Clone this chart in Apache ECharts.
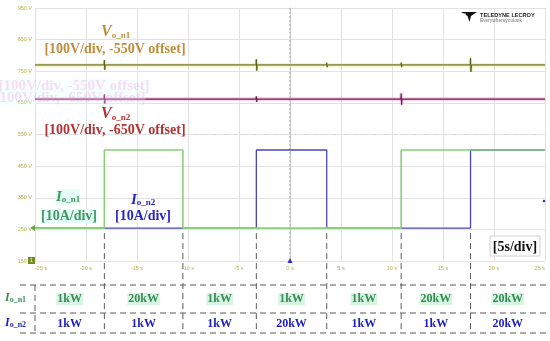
<!DOCTYPE html>
<html><head><meta charset="utf-8">
<script src="https://cdn.jsdelivr.net/npm/echarts@6/dist/echarts.min.js"></script>
<style>html,body{margin:0;padding:0;background:#fff}#c{width:550px;height:341px}</style>
</head><body><div id="c"></div>
<script>
// ---- data ----
const timeTicks = [-25, -20, -15, -10, -5, 0, 5, 10, 15, 20, 25];      // s
const voltTicks = [150, 250, 350, 450, 550, 650, 750, 850, 950];        // V (screen scale)
const switchTimes = [-18.2, -10.5, -3.3, 3.6, 10.9, 17.7];              // s
const ioN1Times  = [-25, -18.2, -18.2, -10.5, -10.5, 10.9, 10.9, 25];
const ioN1Values = [254, 254, 501, 501, 254, 254, 501, 501];
const ioN2Times  = [-25, -3.3, -3.3, 3.6, 3.6, 17.7, 17.7, 25];
const ioN2Values = [254, 254, 501, 501, 254, 254, 501, 501];
const voN1Level = 770;
const voN2Level = 662;
const voN1SpikeTimes = [-18.2, -3.3, 3.6, 10.9, 17.7];
const voN1SpikeAmps  = [15, 18, 7, 7, 22];
const voN2SpikeTimes = [-18.2, -10.5, -3.3, 3.6, 10.9, 17.7];
const voN2SpikeAmps  = [15, 6, 9, 6, 18, 6];
const tableRow1 = ['1kW', '20kW', '1kW', '1kW', '1kW', '20kW', '20kW'];
const tableRow2 = ['1kW', '1kW', '1kW', '20kW', '1kW', '1kW', '20kW'];

const V0 = voltTicks[0], VDIV = 100;
const toDiv = v => (v - V0) / VDIV;
const pair = (ts, vs) => ts.map((t, i) => [t, toDiv(vs[i])]);
function voTrace(level, ts, amps) {
  const pts = [[timeTicks[0], toDiv(level)]];
  ts.forEach((t, i) => {
    pts.push([t - 0.04, toDiv(level)], [t, toDiv(level + amps[i])],
             [t + 0.04, toDiv(level - amps[i])], [t + 0.08, toDiv(level)]);
  });
  pts.push([timeTicks[timeTicks.length - 1], toDiv(level)]);
  return pts;
}

const SERIF = "'Liberation Serif','Times New Roman',serif";
const chart = echarts.init(document.getElementById('c'), null, {renderer: 'canvas'});
const lineS = (data, color, width, z, opacity) => ({
  type: 'line', data, showSymbol: false, silent: true, z: z || 2,
  lineStyle: {color, width, opacity: opacity == null ? 1 : opacity}
});

chart.setOption({
  animation: false,
  grid: {left: 35, right: 5, top: 8, bottom: 80},
  xAxis: {
    type: 'value', min: timeTicks[0], max: timeTicks[timeTicks.length - 1], interval: 5,
    axisLine: {show: false}, axisTick: {show: false},
    splitLine: {lineStyle: {color: '#e2e2e2', width: 1}},
    axisLabel: {fontSize: 5.5, color: '#b4b44a', margin: 4, fontFamily: 'Arial',
      alignMinLabel: 'left', alignMaxLabel: 'right', formatter: v => v + ' s'}
  },
  yAxis: {
    type: 'value', min: 0, max: voltTicks.length - 1, interval: 1,
    axisLine: {show: true, lineStyle: {color: '#c8c8c8'}}, axisTick: {show: false},
    splitLine: {lineStyle: {color: '#e2e2e2', width: 1}},
    axisLabel: {fontSize: 5.5, color: '#b4b44a', margin: 3, fontFamily: 'Arial',
      formatter: v => (V0 + VDIV * v) + ' V'}
  },
  series: [
    lineS(voTrace(voN1Level, voN1SpikeTimes, voN1SpikeAmps), '#e4e48c', 3, 2, 0.8),
    lineS(voTrace(voN1Level, voN1SpikeTimes, voN1SpikeAmps), '#55601c', 1, 3),
    lineS(voTrace(voN2Level, voN2SpikeTimes, voN2SpikeAmps), '#f5b4e2', 3.5, 2, 0.8),
    lineS(voTrace(voN2Level, voN2SpikeTimes, voN2SpikeAmps), '#6e1c4c', 1.1, 3),
    lineS(pair(ioN2Times, ioN2Values), '#4848b4', 1.3, 3),
    lineS(pair(ioN1Times, ioN1Values), '#8ad07a', 1.6, 4)
  ]
});

// ---- overlay graphics positioned through the chart's own scales ----
const px = (t, v) => chart.convertToPixel({gridIndex: 0}, [t, toDiv(v)]);
const [xL, yTop] = px(timeTicks[0], voltTicks[voltTicks.length - 1]);
const [xR, yBot] = px(timeTicks[timeTicks.length - 1], V0);
const [x0, yMid] = px(0, 550);
const baseY = px(0, ioN1Values[0])[1];
const bounds = [xL].concat(switchTimes.map(t => px(t, V0)[0]), [xR]);

const g = [];
const dash = {stroke: '#5a5a5a', lineWidth: 1, lineDash: [6, 4]};
// center cross-hair
g.push({type: 'line', shape: {x1: x0, y1: yTop, x2: x0, y2: yBot}, style: {stroke: '#b0b0b0', lineWidth: 1, lineDash: [2, 2]}, z: 1});
g.push({type: 'line', shape: {x1: xL, y1: yMid, x2: xR, y2: yMid}, style: {stroke: '#c4c4c4', lineWidth: 1, lineDash: [1, 9]}, z: 1});
// switching-instant dashed verticals
switchTimes.forEach((t, i) => {
  g.push({type: 'line', shape: {x1: bounds[i + 1], y1: baseY + 5, x2: bounds[i + 1], y2: 333}, style: dash, z: 5});
});
// table lines
[285, 313, 333].forEach(y => g.push({type: 'line', shape: {x1: 20, y1: y, x2: 548, y2: y}, style: dash, z: 5}));
g.push({type: 'line', shape: {x1: xL, y1: 285, x2: xL, y2: 333}, style: dash, z: 5});
// table cells
const cell = (txt, x, y, color, bg) => ({type: 'text', x, y, z: 6,
  style: {text: txt, fill: color, font: 'bold 12px ' + SERIF, align: 'center', verticalAlign: 'middle',
    backgroundColor: bg || 'transparent', padding: [0, 1]}});
tableRow1.forEach((t, i) => g.push(cell(t, (bounds[i] + bounds[i + 1]) / 2, 299, '#3a8c58', '#d6f6e2')));
tableRow2.forEach((t, i) => g.push(cell(t, (bounds[i] + bounds[i + 1]) / 2, 324, '#1e1ec4')));
const subRich = (color, big, small) => ({
  v: {fill: color, font: 'italic bold ' + big + 'px ' + SERIF, verticalAlign: 'bottom'},
  s: {fill: color, font: 'bold ' + small + 'px ' + SERIF, verticalAlign: 'bottom'}
});
g.push({type: 'text', x: 5, y: 298, z: 6, style: {text: '{v|I}{s|o_n1}', rich: subRich('#3a8c58', 12, 8), verticalAlign: 'middle'}});
g.push({type: 'text', x: 5, y: 323, z: 6, style: {text: '{v|I}{s|o_n2}', rich: subRich('#1e1ec4', 12, 8), verticalAlign: 'middle'}});

// annotations
const ann = (txt, x, y, color, size, bg, opacity) => ({type: 'text', x, y, z: 7,
  style: {text: txt, fill: color, font: 'bold ' + size + 'px ' + SERIF, align: 'center', verticalAlign: 'middle',
    backgroundColor: bg || 'transparent', opacity: opacity == null ? 1 : opacity}});
// faint ghost texts
g.push(ann('[100V/div, -550V offset]', 74, 86, '#f080e8', 15, '#e4ffff', 0.28));
g.push(ann('[100V/div, -650V offset]', 70, 98, '#f080e8', 15, '#e4ffff', 0.28));
g.push({type: 'text', x: 101, y: 32, z: 7, style: {text: '{v|V}{s|o_n1}', rich: subRich('#c08e3a', 16, 9), verticalAlign: 'middle'}});
g.push(ann('[100V/div, -550V offset]', 115, 49, '#c08e3a', 14));
g.push({type: 'text', x: 101, y: 114, z: 7, style: {text: '{v|V}{s|o_n2}', rich: subRich('#b43232', 16, 9), verticalAlign: 'middle'}});
g.push(ann('[100V/div, -650V offset]', 115, 130, '#b43232', 14));
g.push({type: 'text', x: 56, y: 197, z: 7, style: {text: '{v|I}{s|o_n1}', rich: subRich('#3a9a60', 15, 9), verticalAlign: 'middle', backgroundColor: '#e6fcf6'}});
g.push(ann('[10A/div]', 69, 216, '#3a9a60', 14, '#e6fcf6'));
g.push({type: 'text', x: 131, y: 200, z: 7, style: {text: '{v|I}{s|o_n2}', rich: subRich('#2626cc', 15, 9), verticalAlign: 'middle'}});
g.push(ann('[10A/div]', 143, 216, '#2626cc', 14));
g.push({type: 'rect', shape: {x: 490, y: 236, width: 50, height: 20}, style: {fill: '#fff', stroke: '#d0d0d0', lineWidth: 1}, z: 6});
g.push(ann('[5s/div]', 515, 247, '#111', 14));

// oscilloscope UI marks
g.push({type: 'rect', shape: {x: 28, y: yBot - 4, width: 7, height: 7}, style: {fill: '#6e8c22'}, z: 8});
g.push({type: 'text', x: 31.5, y: yBot - 0.5, z: 9, style: {text: '1', fill: '#fff', font: '5px Arial', align: 'center', verticalAlign: 'middle'}});
g.push({type: 'polygon', shape: {points: [[30, baseY], [35, baseY - 3], [35, baseY + 3]]}, style: {fill: '#6ea83c'}, z: 8});
g.push({type: 'polygon', shape: {points: [[x0, yBot - 3], [x0 - 2.5, yBot + 2], [x0 + 2.5, yBot + 2]]}, style: {fill: '#2a2ad0'}, z: 8});
g.push({type: 'circle', shape: {cx: xR - 1, cy: 201, r: 1.2}, style: {fill: '#2a2ad0'}, z: 8});

// logo
g.push({type: 'polygon', shape: {points: [[461, 12], [477, 12], [471, 16], [469.5, 22], [467.5, 16]]}, style: {fill: '#111'}, z: 8});
g.push({type: 'polygon', shape: {points: [[462, 13.5], [466, 13.5], [465, 15.5]]}, style: {fill: '#fff'}, z: 9});
g.push({type: 'text', x: 480, y: 15, z: 8, style: {text: 'TELEDYNE LECROY', fill: '#222', font: 'bold 5.6px Arial', verticalAlign: 'middle'}});
g.push({type: 'text', x: 480, y: 20.5, z: 8, style: {text: 'Everywhereyoulook', fill: '#777', font: '4.8px Arial', verticalAlign: 'middle'}});

chart.setOption({graphic: {elements: g}});
</script>
</body></html>
